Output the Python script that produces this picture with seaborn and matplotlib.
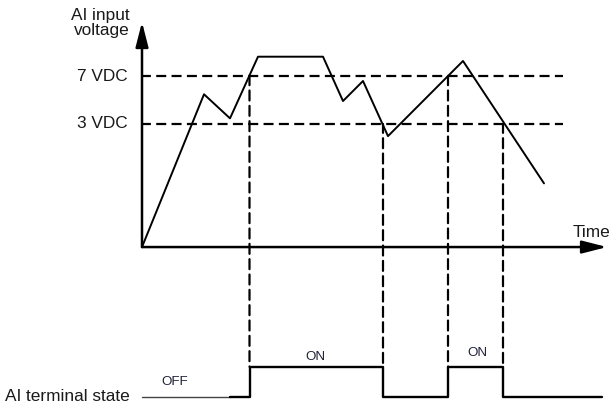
import pandas as pd
import matplotlib
matplotlib.use("Agg")
import matplotlib.pyplot as plt
from matplotlib.patches import ConnectionPatch
import seaborn as sns

# analog input waveform (time units, schematic voltage level)
wave_time = [0, 6.2, 8.8, 11.6, 18.1, 20.1, 22.1, 24.6, 32.1, 40.2]
wave_level = [0, 6.79, 5.72, 8.46, 8.46, 6.49, 7.38, 4.93, 8.27, 2.83]

# thresholds on the schematic scale
threshold_levels = [7.59, 5.47]
threshold_labels = ["7 VDC", "3 VDC"]

# switching instants and the threshold crossed there
switch_time = [10.75, 24.1, 30.6, 36.1]
switch_level = [7.59, 5.47, 7.59, 5.47]

# digital terminal state
state_time = [8.8, 10.75, 24.1, 30.6, 36.1, 46.0]
state_value = [0, 1, 0, 1, 0, 0]
state_text = ["OFF", "ON", "ON"]
state_text_time = [3.3, 17.3, 33.5]
state_text_y = [0.5, 1.33, 1.44]

sns.set_style("white")
plt.rcParams["font.family"] = ["Liberation Sans", "DejaVu Sans"]

dash = (0.5, (4.5, 2.4))
fig = plt.figure(figsize=(6.11, 4.05), dpi=100)
ax = fig.add_axes([0, 0, 1, 1])
ax.set_xlim(-14.2, 46.9)
ax.set_ylim(-7.02, 10.98)
ax.axis("off")

ax2 = fig.add_axes([0, 0.0198, 1, 0.0748])
ax2.set_xlim(-14.2, 46.9)
ax2.set_ylim(0, 1)
ax2.axis("off")

# axes with arrows
arrow = dict(arrowstyle="-|>,head_length=1.25,head_width=0.32", lw=1.8,
             color="black", mutation_scale=12, shrinkA=0, shrinkB=0)
ax.annotate("", xy=(0, 10.0), xytext=(0, 0), arrowprops=arrow)
ax.annotate("", xy=(46.5, 0), xytext=(0, 0), arrowprops=arrow)

# threshold lines
for lvl, lab in zip(threshold_levels, threshold_labels):
    ax.plot([0, 42.1], [lvl, lvl], color="black", lw=1.6, linestyle=dash)
    ax.text(-1.4, lvl, lab, ha="right", va="center", fontsize=12.4, color="#1a1a1a")

wave = pd.DataFrame({"t": wave_time, "v": wave_level})
sns.lineplot(data=wave, x="t", y="v", ax=ax, color="black", lw=1.4,
             estimator=None, sort=False)

ax.text(-1.2, 9.96, "AI input\nvoltage", ha="right", va="center",
        fontsize=12.4, linespacing=0.95, color="#1a1a1a")
ax.text(43.1, 0.64, "Time", ha="left", va="center", fontsize=12.4, color="#1a1a1a")

# terminal state
state = pd.DataFrame({"t": state_time, "s": state_value})
ax2.plot([0, 8.8], [0, 0], color="#444444", lw=1.0, clip_on=False)
sns.lineplot(data=state, x="t", y="s", ax=ax2, color="black", lw=1.7,
             estimator=None, sort=False, drawstyle="steps-post")
for l in ax2.lines:
    l.set_clip_on(False)
for txt, tx, ty in zip(state_text, state_text_time, state_text_y):
    ax2.text(tx, ty, txt, ha="center", va="center", fontsize=9.6, color="#22223a")
ax2.text(-1.2, 0, "AI terminal state", ha="right", va="center",
         fontsize=12.4, color="#1a1a1a")

# vertical dashed connectors
for t, lvl in zip(switch_time, switch_level):
    con = ConnectionPatch(xyA=(t, lvl), coordsA=ax.transData,
                          xyB=(t, 1), coordsB=ax2.transData,
                          linestyle=dash, lw=1.6, color="black")
    fig.add_artist(con)

plt.savefig("out.png", dpi=100)
